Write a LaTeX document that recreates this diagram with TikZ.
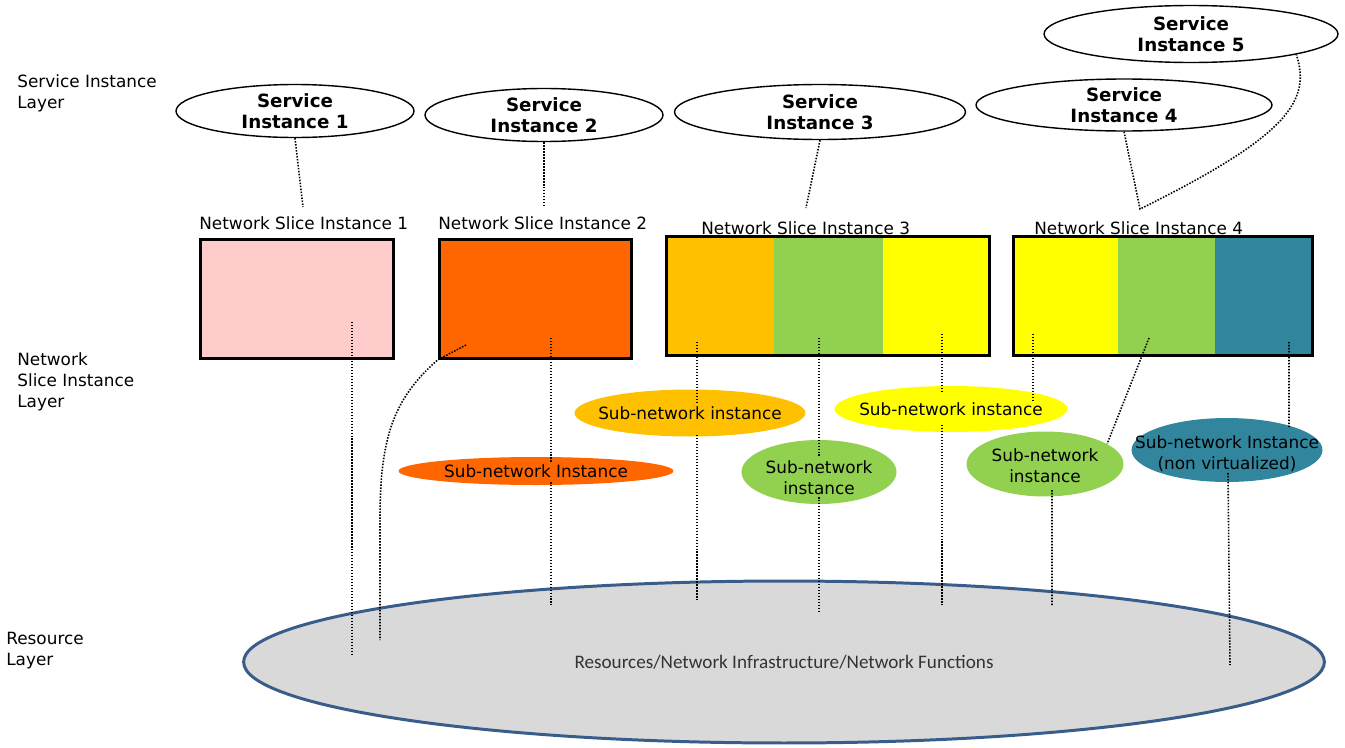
\documentclass[tikz,border=0pt]{standalone}
\usepackage{fontspec}
\setmainfont{DejaVu Sans}
\newfontfamily\calibri{Carlito}
\usepackage{tikz}
\usetikzlibrary{shapes.geometric,positioning}

\definecolor{slicepink}{HTML}{FFCCCC}
\definecolor{sliceorange}{HTML}{FF6600}
\definecolor{amber}{HTML}{FFC000}
\definecolor{leafgreen}{HTML}{92D050}
\definecolor{brightyellow}{HTML}{FFFF00}
\definecolor{sliceteal}{HTML}{31859C}
\definecolor{resgray}{HTML}{D9D9D9}
\definecolor{resblue}{HTML}{385D8A}

\tikzset{
  txt/.style={inner sep=0pt,font=\fontsize{9.6}{11.9}\selectfont},
  svc/.style={ellipse,draw,line width=0.8pt,inner sep=0pt,align=center,font=\fontsize{10.4}{11.9}\selectfont\bfseries},
  slice/.style={draw,line width=1.7pt,inner sep=0pt,minimum width=3.86cm,minimum height=2.38cm},
  seg/.style={inner sep=0pt,minimum height=2.35cm,line width=0.4pt,fill=#1,draw=#1},
  frame/.style={line width=1.7pt},
  sub/.style={ellipse,inner sep=0pt},
  subtext/.style={txt,align=center},
  dots/.style={line width=0.9pt,dash pattern=on 0.85pt off 0.85pt},
}

\begin{document}
\begin{tikzpicture}[x=0.02cm,y=-0.02cm]
\useasboundingbox (0,0) rectangle (1345,747);

% layer captions
\node (lsvc) [txt,anchor=west,align=left] at (17,93) {Service Instance\\Layer};
\node (lnsi) [txt,anchor=west,align=left] at (17,382) {Network\\Slice Instance\\Layer};
\node (lres) [txt,anchor=west,align=left] at (6,650.5) {Resource\\Layer};

% resource layer
\node (res) [ellipse,draw=resblue,fill=resgray,line width=1.7pt,inner sep=0pt,minimum width=21.62cm,minimum height=3.24cm,
  font=\calibri\fontsize{10.9}{12}\selectfont,text=black!80] at (784,662) {Resources/Network Infrastructure/Network Functions};

% network slice instances
\node (nsi1) [slice,fill=slicepink] at (297,299) {};
\node (nsi2) [slice,fill=sliceorange] at (535.5,299) {};
\node (nsi3a) [seg=amber,minimum width=2.14cm,anchor=west] at (666.5,296) {};
\node (nsi3b) [seg=leafgreen,minimum width=2.16cm,right=0pt of nsi3a] {};
\node (nsi3c) [seg=brightyellow,minimum width=2.12cm,right=0pt of nsi3b] {};
\draw [frame] (nsi3a.north west) rectangle (nsi3c.south east);
\node (nsi4a) [seg=brightyellow,minimum width=2.08cm,anchor=west] at (1013.5,296) {};
\node (nsi4b) [seg=leafgreen,minimum width=1.92cm,right=0pt of nsi4a] {};
\node (nsi4c) [seg=sliceteal,minimum width=1.94cm,right=0pt of nsi4b] {};
\draw [frame] (nsi4a.north west) rectangle (nsi4c.south east);

\node (tnsi1) [txt,anchor=west] at (199,223) {Network Slice Instance 1};
\node (tnsi2) [txt,anchor=west] at (438,223) {Network Slice Instance 2};
\node (tnsi3) [txt,anchor=west] at (701,228) {Network Slice Instance 3};
\node (tnsi4) [txt,anchor=west] at (1034,228) {Network Slice Instance 4};

% service instances
\node (si1) [svc,minimum width=4.76cm,minimum height=1.06cm] at (295,111) {Service\\Instance 1};
\node (si2) [svc,minimum width=4.76cm,minimum height=1.06cm] at (544,115) {Service\\Instance 2};
\node (si3) [svc,minimum width=5.82cm,minimum height=1.1cm] at (820,112) {Service\\Instance 3};
\node (si4) [svc,minimum width=5.92cm,minimum height=1.04cm] at (1124,105) {Service\\Instance 4};
\node (si5) [svc,minimum width=5.88cm,minimum height=1.14cm] at (1191,34) {Service\\Instance 5};

% sub-network instances
\node (sn2) [sub,fill=sliceorange,minimum width=5.5cm,minimum height=0.56cm,
  label={[subtext]center:Sub-network Instance}] at (536,471) {};
\node (sn3a) [sub,fill=amber,minimum width=4.62cm,minimum height=0.94cm,
  label={[subtext]center:Sub-network instance}] at (690,413) {};
\node (sn3b) [sub,fill=leafgreen,minimum width=3.1cm,minimum height=1.28cm,
  label={[subtext,yshift=-3pt]center:Sub-network\\instance}] at (819,472) {};
\node (sny) [sub,fill=brightyellow,minimum width=4.66cm,minimum height=0.92cm,
  label={[subtext]center:Sub-network instance}] at (951,409) {};
\node (sn4b) [sub,fill=leafgreen,minimum width=3.14cm,minimum height=1.3cm,
  label={[subtext,yshift=-1pt]center:Sub-network\\instance}] at (1045,464) {};
\node (sn4c) [sub,fill=sliceteal,minimum width=3.82cm,minimum height=1.28cm,
  label={[subtext,yshift=-2pt]center:Sub-network Instance\\(non virtualized)}] at (1227,450) {};

% hooks above the slice captions
\coordinate (h1) at (303,207);
\coordinate (h2) at (544,207);
\coordinate (h3) at (806,208);
\coordinate (h4) at (1140,209);

\draw [dots] (si1.south) -- (h1);
\draw [dots] (si2.south) -- (h2);
\draw [dots] (si3.south) -- (h3);
\draw [dots] (si4.south) -- (h4) .. controls (1290,135) and (1311,100) .. (si5.-11.5);

% slice to sub-network to resource
\draw [dots] (352,322) -- (352,654);
\draw [dots] (466,345) -- (nsi2.south west) .. controls (392,400) and (380,440) .. (380,520) -- (380,640);
\draw [dots] (551,338) -- (551,462) (551,482) -- (551,605);
\draw [dots] (697,342) -- (697,402) (697,435) -- (697,600);
\draw [dots] (819,338) -- (819,457) (819,497) -- (819,612);
\draw [dots] (942,334) -- (942,393) (942,425) -- (942,605);
\draw [dots] (1033,334) -- (1033,400);
\draw [dots] (1149,338) -- (sn4b.18) (1052,490) -- (1052,605);
\draw [dots] (1289,342) -- (1289,427) (1228,473) -- (1230,665);
\end{tikzpicture}
\end{document}
